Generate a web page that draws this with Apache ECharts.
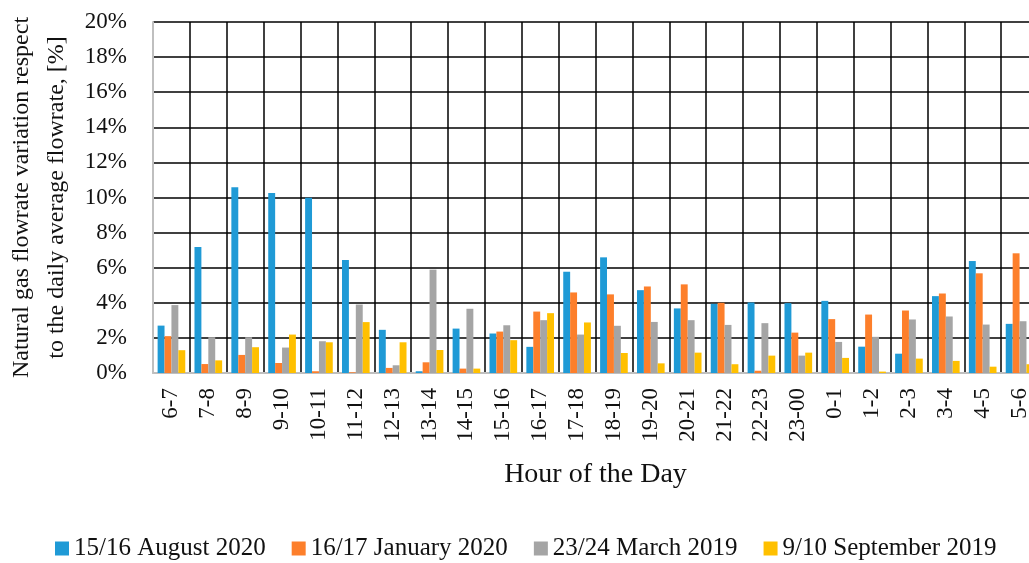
<!DOCTYPE html>
<html>
<head>
<meta charset="utf-8">
<script src="https://cdn.jsdelivr.net/npm/echarts@6/dist/echarts.min.js"></script>
<style>
  html, body { margin: 0; padding: 0; background: #fff; }
  #chart { width: 1029px; height: 563px; }
</style>
</head>
<body>
<div id="chart"></div>
<script>
// hour slots on the x axis
var hours = ['6-7','7-8','8-9','9-10','10-11','11-12','12-13','13-14','14-15','15-16','16-17','17-18',
             '18-19','19-20','20-21','21-22','22-23','23-00','0-1','1-2','2-3','3-4','4-5','5-6'];

// flowrate variation, % of daily average
var aug2020 = [2.70, 7.18, 10.59, 10.25, 9.98, 6.44, 2.46, 0.10, 2.53, 2.25, 1.49, 5.77,
               6.59, 4.72, 3.68, 3.94, 4.02, 3.98, 4.11, 1.50, 1.10, 4.38, 6.38, 2.80];
var jan2020 = [2.10, 0.51, 1.03, 0.57, 0.10, 0.04, 0.29, 0.61, 0.25, 2.36, 3.50, 4.59,
               4.48, 4.93, 5.05, 4.00, 0.13, 2.30, 3.07, 3.33, 3.56, 4.53, 5.68, 6.82];
var mar2019 = [3.87, 2.04, 2.04, 1.45, 1.81, 3.90, 0.44, 5.89, 3.66, 2.72, 3.01, 2.19,
               2.69, 2.91, 3.01, 2.74, 2.84, 0.99, 1.77, 2.06, 3.05, 3.22, 2.76, 2.95];
var sep2019 = [1.30, 0.72, 1.47, 2.19, 1.75, 2.90, 1.75, 1.31, 0.25, 1.87, 3.41, 2.88,
               1.14, 0.55, 1.16, 0.50, 0.99, 1.16, 0.86, 0.08, 0.82, 0.69, 0.36, 0.50];

var seriesNames = ['15/16 August 2020', '16/17 January 2020', '23/24 March 2019', '9/10 September 2019'];
var yTicks = [0, 20, 2]; // min, max, step

var font = '"Liberation Serif", "DejaVu Serif", serif';
var colors = ['#1f9ad6', '#fd7f2b', '#a5a5a5', '#ffc000'];

var chart = echarts.init(document.getElementById('chart'));

function bar(name, data) {
    return {
        name: name,
        type: 'bar',
        data: data,
        barGap: '0%',
        barCategoryGap: '25%'
    };
}

var option = {
    animation: false,
    color: colors,
    // plot runs past the right edge like in the original figure
    grid: { left: 153, top: 22, width: 885, height: 351, containLabel: false, outerBoundsMode: 'none' },
    legend: {
        left: 50,
        top: 531,
        itemWidth: 14,
        itemHeight: 14,
        itemGap: 26,
        icon: 'rect',
        textStyle: { fontFamily: font, fontSize: 25, color: '#111' },
        data: seriesNames
    },
    xAxis: {
        type: 'category',
        data: hours,
        name: 'Hour of the Day',
        nameLocation: 'middle',
        nameGap: 88,
        nameTextStyle: { fontFamily: font, fontSize: 28, color: '#111' },
        axisLine: { lineStyle: { color: '#bfbfbf', width: 2 } },
        axisTick: { show: false },
        axisLabel: { rotate: 90, interval: 0, margin: 15, fontFamily: font, fontSize: 23, color: '#111' },
        splitLine: { show: true, interval: 0, lineStyle: { color: '#000', width: 1.5 } }
    },
    yAxis: {
        type: 'value',
        min: yTicks[0],
        max: yTicks[1],
        interval: yTicks[2],
        name: 'Natural gas flowrate variation respect\nto the daily average flowrate, [%]',
        nameLocation: 'middle',
        nameGap: 78,
        nameTextStyle: { fontFamily: font, fontSize: 24, color: '#111', lineHeight: 35 },
        axisLine: { show: true, lineStyle: { color: '#bfbfbf', width: 2 } },
        axisTick: { show: false },
        axisLabel: { formatter: '{value}%', margin: 26, fontFamily: font, fontSize: 23, color: '#111' },
        splitLine: { lineStyle: { color: '#000', width: 1.5 } }
    },
    series: [
        bar(seriesNames[0], aug2020),
        bar(seriesNames[1], jan2020),
        bar(seriesNames[2], mar2019),
        bar(seriesNames[3], sep2019)
    ]
};

chart.setOption(option);
</script>
</body>
</html>
